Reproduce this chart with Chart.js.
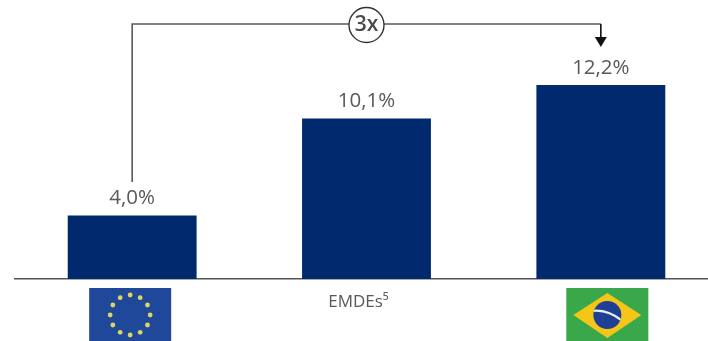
<!DOCTYPE html>
<html><head><meta charset="utf-8">
<style>html,body{margin:0;padding:0;background:#fff;width:708px;height:341px;overflow:hidden}canvas{display:block}</style>
<script src="https://cdn.jsdelivr.net/npm/chart.js@4"></script></head>
<body><canvas id="c" width="718" height="341" style="width:718px;height:341px"></canvas>
<script>
const categories = ["UE", "EMDEs⁵", "Brasil"];
const values = [4.0, 10.1, 12.2];
const flagCategories = ["UE", "Brasil"];
const multiplierLabel = "3x";
const bracketFrom = 0, bracketTo = 2;
const bracketLevel = 16.04, bracketStart = 6.1, arrowTip = 14.6;
const GREY = "#595959", FONT = '"Open Sans", sans-serif';

const overlay = {
  id: "overlay",
  afterDatasetsDraw(chart) {
    const { ctx, scales: { x, y } } = chart;
    ctx.save();
    // value labels
    ctx.fillStyle = GREY; ctx.font = "20.5px " + FONT;
    ctx.textAlign = "center"; ctx.textBaseline = "middle";
    values.forEach((v, i) => ctx.fillText(v.toFixed(1).replace(".", ",") + "%", x.getPixelForValue(i), y.getPixelForValue(v) - 17));
    // bracket
    const x0 = x.getPixelForValue(bracketFrom), x1 = x.getPixelForValue(bracketTo);
    const yL = y.getPixelForValue(bracketLevel), yS = y.getPixelForValue(bracketStart), yT = y.getPixelForValue(arrowTip);
    ctx.strokeStyle = GREY; ctx.lineWidth = 1.6;
    ctx.beginPath(); ctx.moveTo(x0, yS); ctx.lineTo(x0, yL); ctx.lineTo(x1, yL); ctx.stroke();
    ctx.strokeStyle = "#111"; ctx.beginPath(); ctx.moveTo(x1, yL); ctx.lineTo(x1, yT - 8); ctx.stroke();
    ctx.fillStyle = "#111"; ctx.beginPath(); ctx.moveTo(x1 - 6, yT - 10); ctx.lineTo(x1 + 6, yT - 10); ctx.lineTo(x1, yT); ctx.closePath(); ctx.fill();
    // circle
    const cx = x.getPixelForValue(1);
    ctx.fillStyle = "#fff"; ctx.strokeStyle = "#333"; ctx.lineWidth = 1.4;
    ctx.beginPath(); ctx.arc(cx, yL + 1, 17.5, 0, Math.PI * 2); ctx.fill(); ctx.stroke();
    ctx.fillStyle = "#4a4a4a"; ctx.font = "600 21px " + FONT;
    ctx.fillText(multiplierLabel, cx, yL + 1);
    // flags, centred under their bars
    const fw = 82, fh = 55, fTop = y.bottom + 9;
    const euX = x.getPixelForValue(categories.indexOf(flagCategories[0])) - 2;
    ctx.fillStyle = "#20489A"; ctx.fillRect(euX - fw / 2, fTop, fw, fh);
    ctx.fillStyle = "#DCD660";
    for (let i = 0; i < 12; i++) {
      const a = i * Math.PI / 6;
      ctx.beginPath(); ctx.arc(euX + 20 * Math.sin(a), fTop + 27 - 20 * Math.cos(a), 2.4, 0, Math.PI * 2); ctx.fill();
    }
    const brX = x.getPixelForValue(categories.indexOf(flagCategories[1])) + 6.5;
    ctx.fillStyle = "#38A84A"; ctx.fillRect(brX - fw / 2, fTop, fw, fh);
    ctx.fillStyle = "#F5C518"; ctx.beginPath();
    ctx.moveTo(brX - 34, fTop + 27); ctx.lineTo(brX, fTop + 5); ctx.lineTo(brX + 34, fTop + 27); ctx.lineTo(brX, fTop + 50); ctx.closePath(); ctx.fill();
    ctx.fillStyle = "#1F3F94"; ctx.beginPath(); ctx.arc(brX, fTop + 27, 14, 0, Math.PI * 2); ctx.fill();
    ctx.save(); ctx.beginPath(); ctx.arc(brX, fTop + 27, 14, 0, Math.PI * 2); ctx.clip();
    ctx.strokeStyle = "#E8EEF0"; ctx.lineWidth = 2.2; ctx.beginPath();
    ctx.moveTo(brX - 15, fTop + 23); ctx.quadraticCurveTo(brX, fTop + 21, brX + 15, fTop + 33); ctx.stroke();
    ctx.restore();
    ctx.restore();
  }
};

new Chart(document.getElementById("c"), {
  type: "bar",
  data: { labels: categories, datasets: [{ data: values, backgroundColor: "#012A6E", borderWidth: 0, barPercentage: 0.55, categoryPercentage: 1 }] },
  options: {
    responsive: false, animation: false, devicePixelRatio: 1,
    layout: { padding: { left: 15, right: 0, top: 0, bottom: 0 } },
    plugins: { legend: { display: false }, tooltip: { enabled: false } },
    scales: {
      x: {
        grid: { display: false, drawTicks: false }, border: { color: "#555", width: 1.6 },
        afterFit(s) { s.height = 62; },
        ticks: { padding: 13, labelOffset: -8, color: GREY, font: { family: FONT, size: 17 }, maxRotation: 0, autoSkip: false,
          callback(v) { const c = categories[v]; return flagCategories.includes(c) ? "" : c; } }
      },
      y: { display: false, min: 0, max: 17.55 }
    }
  },
  plugins: [overlay]
});
</script></body></html>
